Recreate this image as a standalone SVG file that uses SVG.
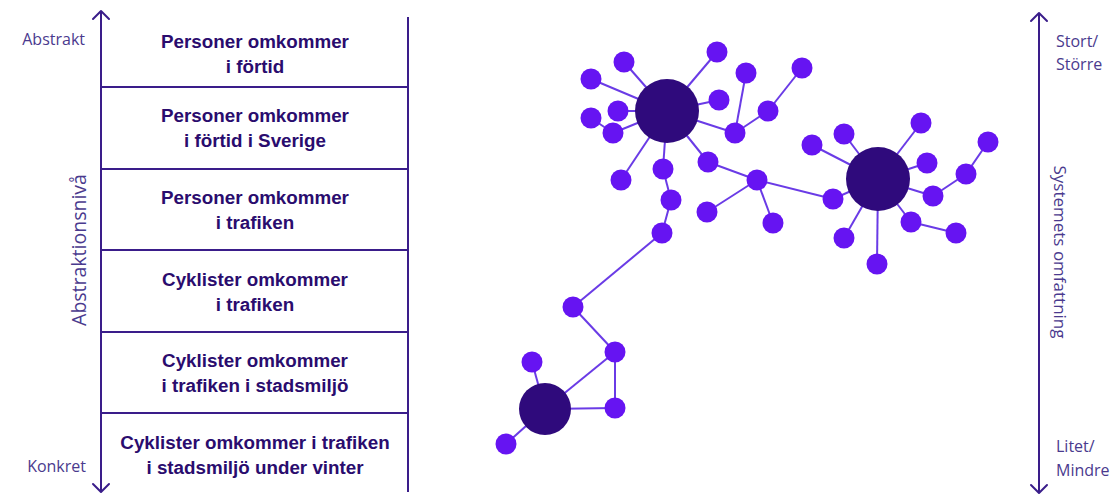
<svg xmlns="http://www.w3.org/2000/svg" width="1117" height="497" viewBox="0 0 1117 497">
<style>
.line{stroke:#3a1d8a;stroke-width:2;fill:none}
.arrow{stroke:#3a1d8a;stroke-width:2;fill:none;stroke-linecap:round;stroke-linejoin:round}
.cell{font-family:"Liberation Sans",Arial,sans-serif;font-weight:bold;font-size:18.8px;fill:#2a0c6e;text-anchor:middle}
.axis{font-family:"Open Sans","Liberation Sans",sans-serif;font-size:16px;fill:#4a3a8e}
.vlabel{font-family:"Open Sans","Liberation Sans",sans-serif;fill:#4a3a8e;text-anchor:middle}
.edge{stroke:#6a3be6;stroke-width:2}
.n{fill:#6614f2}
.hub{fill:#2f0a7c}
</style>
<rect width="1117" height="497" fill="#ffffff"/>

<g id="left-axis">
<line class="line" x1="101" y1="11" x2="101" y2="492"/>
<polyline class="arrow" points="93,19 101,11 109,19"/>
<polyline class="arrow" points="93,484 101,492 109,484"/>
<text class="axis" x="85" y="45" text-anchor="end">Abstrakt</text>
<text class="axis" x="86" y="472" text-anchor="end">Konkret</text>
<text class="vlabel" style="font-size:19.5px" transform="translate(86,250) rotate(-90)">Abstraktionsnivå</text>
</g>

<g id="table">
<line class="line" x1="408" y1="17" x2="408" y2="492"/>
<line class="line" x1="101" y1="87" x2="408" y2="87"/>
<line class="line" x1="101" y1="169" x2="408" y2="169"/>
<line class="line" x1="101" y1="250" x2="408" y2="250"/>
<line class="line" x1="101" y1="332" x2="408" y2="332"/>
<line class="line" x1="101" y1="413" x2="408" y2="413"/>
</g>
<g id="level1"><text class="cell" x="255" y="48">Personer omkommer</text><text class="cell" x="255" y="73">i förtid</text></g>
<g id="level2"><text class="cell" x="255" y="122">Personer omkommer</text><text class="cell" x="255" y="147">i förtid i Sverige</text></g>
<g id="level3"><text class="cell" x="255" y="204">Personer omkommer</text><text class="cell" x="255" y="229">i trafiken</text></g>
<g id="level4"><text class="cell" x="255" y="286">Cyklister omkommer</text><text class="cell" x="255" y="311">i trafiken</text></g>
<g id="level5"><text class="cell" x="255" y="367">Cyklister omkommer</text><text class="cell" x="255" y="392">i trafiken i stadsmiljö</text></g>
<g id="level6"><text class="cell" x="255" y="449">Cyklister omkommer i trafiken</text><text class="cell" x="255" y="474">i stadsmiljö under vinter</text></g>

<g id="right-axis">
<line class="line" x1="1039" y1="13" x2="1039" y2="493"/>
<polyline class="arrow" points="1031,21 1039,13 1047,21"/>
<polyline class="arrow" points="1031,485 1039,493 1047,485"/>
<text class="axis" x="1056" y="47">Stort/</text>
<text class="axis" x="1056" y="70">Större</text>
<text class="axis" x="1056" y="452">Litet/</text>
<text class="axis" x="1056" y="476">Mindre</text>
<text class="vlabel" style="font-size:17px" transform="translate(1054,252) rotate(90)">Systemets omfattning</text>
</g>

<g id="connectors">
<line class="edge" x1="667" y1="111" x2="624" y2="62"/>
<line class="edge" x1="667" y1="111" x2="591" y2="79"/>
<line class="edge" x1="667" y1="111" x2="618" y2="111"/>
<line class="edge" x1="667" y1="111" x2="613" y2="133"/>
<line class="edge" x1="613" y1="133" x2="591" y2="118"/>
<line class="edge" x1="667" y1="111" x2="621" y2="180"/>
<line class="edge" x1="667" y1="111" x2="663" y2="169"/>
<line class="edge" x1="663" y1="169" x2="671" y2="200"/>
<line class="edge" x1="671" y1="200" x2="662" y2="233"/>
<line class="edge" x1="662" y1="233" x2="573" y2="307"/>
<line class="edge" x1="667" y1="111" x2="708" y2="162"/>
<line class="edge" x1="708" y1="162" x2="757" y2="180"/>
<line class="edge" x1="757" y1="180" x2="707" y2="212"/>
<line class="edge" x1="757" y1="180" x2="773" y2="223"/>
<line class="edge" x1="757" y1="180" x2="833" y2="199"/>
<line class="edge" x1="667" y1="111" x2="717" y2="52"/>
<line class="edge" x1="667" y1="111" x2="719" y2="100"/>
<line class="edge" x1="667" y1="111" x2="735" y2="133"/>
<line class="edge" x1="735" y1="133" x2="746" y2="73"/>
<line class="edge" x1="735" y1="133" x2="768" y2="111"/>
<line class="edge" x1="768" y1="111" x2="802" y2="68"/>
<line class="edge" x1="878" y1="179" x2="812" y2="145"/>
<line class="edge" x1="878" y1="179" x2="844" y2="134"/>
<line class="edge" x1="878" y1="179" x2="921" y2="123"/>
<line class="edge" x1="878" y1="179" x2="927" y2="163"/>
<line class="edge" x1="878" y1="179" x2="933" y2="196"/>
<line class="edge" x1="933" y1="196" x2="966" y2="174"/>
<line class="edge" x1="966" y1="174" x2="988" y2="142"/>
<line class="edge" x1="878" y1="179" x2="833" y2="199"/>
<line class="edge" x1="878" y1="179" x2="911" y2="222"/>
<line class="edge" x1="911" y1="222" x2="956" y2="233"/>
<line class="edge" x1="878" y1="179" x2="844" y2="238"/>
<line class="edge" x1="878" y1="179" x2="877" y2="264"/>
<line class="edge" x1="573" y1="307" x2="615" y2="352"/>
<line class="edge" x1="615" y1="352" x2="545" y2="409"/>
<line class="edge" x1="615" y1="352" x2="615" y2="408"/>
<line class="edge" x1="545" y1="409" x2="615" y2="408"/>
<line class="edge" x1="545" y1="409" x2="532" y2="362"/>
<line class="edge" x1="545" y1="409" x2="506" y2="444"/>
</g>

<g id="cluster-a">
<circle class="hub" cx="667" cy="111" r="32"/>
<circle class="n" cx="624" cy="62" r="10.5"/>
<circle class="n" cx="591" cy="79" r="10.5"/>
<circle class="n" cx="618" cy="111" r="10.5"/>
<circle class="n" cx="591" cy="118" r="10.5"/>
<circle class="n" cx="613" cy="133" r="10.5"/>
<circle class="n" cx="621" cy="180" r="10.5"/>
<circle class="n" cx="663" cy="169" r="10.5"/>
<circle class="n" cx="671" cy="200" r="10.5"/>
<circle class="n" cx="662" cy="233" r="10.5"/>
<circle class="n" cx="708" cy="162" r="10.5"/>
<circle class="n" cx="757" cy="180" r="10.5"/>
<circle class="n" cx="707" cy="212" r="10.5"/>
<circle class="n" cx="773" cy="223" r="10.5"/>
<circle class="n" cx="717" cy="52" r="10.5"/>
<circle class="n" cx="746" cy="73" r="10.5"/>
<circle class="n" cx="719" cy="100" r="10.5"/>
<circle class="n" cx="735" cy="133" r="10.5"/>
<circle class="n" cx="768" cy="111" r="10.5"/>
<circle class="n" cx="802" cy="68" r="10.5"/>
</g>

<g id="cluster-b">
<circle class="hub" cx="878" cy="179" r="32"/>
<circle class="n" cx="812" cy="145" r="10.5"/>
<circle class="n" cx="844" cy="134" r="10.5"/>
<circle class="n" cx="921" cy="123" r="10.5"/>
<circle class="n" cx="927" cy="163" r="10.5"/>
<circle class="n" cx="933" cy="196" r="10.5"/>
<circle class="n" cx="966" cy="174" r="10.5"/>
<circle class="n" cx="988" cy="142" r="10.5"/>
<circle class="n" cx="833" cy="199" r="10.5"/>
<circle class="n" cx="911" cy="222" r="10.5"/>
<circle class="n" cx="956" cy="233" r="10.5"/>
<circle class="n" cx="844" cy="238" r="10.5"/>
<circle class="n" cx="877" cy="264" r="10.5"/>
</g>

<g id="cluster-c">
<circle class="n" cx="573" cy="307" r="10.5"/>
<circle class="n" cx="615" cy="352" r="10.5"/>
<circle class="n" cx="615" cy="408" r="10.5"/>
<circle class="hub" cx="545" cy="409" r="26"/>
<circle class="n" cx="532" cy="362" r="10.5"/>
<circle class="n" cx="506" cy="444" r="10.5"/>
</g>
</svg>
